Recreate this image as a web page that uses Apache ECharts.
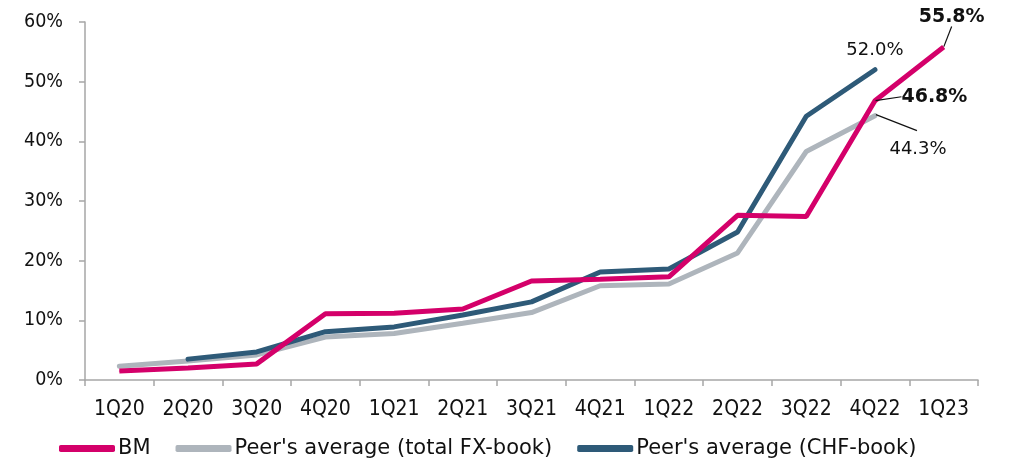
<!DOCTYPE html>
<html>
<head>
<meta charset="utf-8">
<script src="https://cdn.jsdelivr.net/npm/echarts@6/dist/echarts.min.js"></script>
<style>
  html, body { margin: 0; padding: 0; background: #ffffff; }
  #chart { width: 1010px; height: 463px; }
</style>
</head>
<body>
<div id="chart"></div>
<script>
// Quarters on the x axis
const quarters = ['1Q20', '2Q20', '3Q20', '4Q20', '1Q21', '2Q21', '3Q21', '4Q21', '1Q22', '2Q22', '3Q22', '4Q22', '1Q23'];

// Shares in percent per quarter (null = no value for that quarter)
const bm = [1.5, 2.0, 2.7, 11.1, 11.2, 11.9, 16.6, 16.9, 17.3, 27.6, 27.4, 46.8, 55.8];
const peerTotalFx = [2.3, 3.2, 4.2, 7.2, 7.8, 9.5, 11.3, 15.8, 16.1, 21.3, 38.3, 44.3, null];
const peerChf = [null, 3.5, 4.7, 8.1, 8.9, 10.9, 13.1, 18.1, 18.6, 24.8, 44.2, 52.0, null];

const seriesNames = ['BM', "Peer's average (total FX-book)", "Peer's average (CHF-book)"];
const seriesColors = ['#d4006a', '#aeb5bc', '#2e5a78'];

// Y axis ticks
const yMin = 0, yMax = 60, yStep = 10;

const axisFont = 'DejaVu Sans Condensed';
const textFont = 'DejaVu Sans';

function pct(v) { return v.toFixed(1) + '%'; }

const lastBm = bm.length - 1;
const lastPeer = 11;

// Only the latest points carry value labels
function withLabels(values, labels) {
  return values.map((v, i) => labels[i] ? { value: v, label: labels[i] } : v);
}

const boldLabel = { show: true, fontWeight: 'bold', fontSize: 19 };
const plainLabel = { show: true, fontSize: 18 };

const chart = echarts.init(document.getElementById('chart'), null, { renderer: 'canvas' });

const option = {
  animation: false,
  backgroundColor: '#ffffff',
  grid: { left: 85, right: 32, top: 22, bottom: 83, containLabel: false },
  legend: {
    top: 433,
    left: 54,
    itemGap: 25,
    itemWidth: 56,
    itemHeight: 7,
    icon: 'roundRect',
    textStyle: { fontFamily: textFont, fontSize: 21, color: '#111111', padding: [0, 0, 0, -2] },
    data: seriesNames
  },
  xAxis: {
    type: 'category',
    data: quarters,
    boundaryGap: true,
    axisLine: { lineStyle: { color: '#a6a6a6', width: 1.5 } },
    axisTick: { show: true, length: 6, lineStyle: { color: '#a6a6a6', width: 1.5 } },
    axisLabel: { fontFamily: axisFont, fontSize: 21, color: '#111111', margin: 19 },
    splitLine: { show: false }
  },
  yAxis: {
    type: 'value',
    min: yMin, max: yMax, interval: yStep,
    axisLine: { show: true, lineStyle: { color: '#a6a6a6', width: 1.5 } },
    axisTick: { show: true, length: 6, lineStyle: { color: '#a6a6a6', width: 1.5 } },
    axisLabel: { fontFamily: axisFont, fontSize: 19.5, color: '#111111', margin: 22, formatter: '{value}%' },
    splitLine: { show: false }
  },
  series: [
    {
      name: seriesNames[0],
      type: 'line',
      z: 3,
      data: withLabels(bm, {
        [lastPeer]: Object.assign({ position: 'right', distance: 4 }, boldLabel),
        [lastBm]: Object.assign({ position: 'top', distance: 4 }, boldLabel)
      }),
      symbol: 'circle',
      symbolSize: 1,
      showSymbol: true,
      lineStyle: { color: seriesColors[0], width: 5 },
      itemStyle: { color: seriesColors[0] },
      label: { show: false, fontFamily: textFont, color: '#111111', formatter: p => pct(p.value) },
      labelLine: { show: true, lineStyle: { color: '#111111', width: 1.2 } },
      labelLayout: function (p) {
        if (p.dataIndex === lastBm) return { dx: 8, dy: -16 };
        if (p.dataIndex === lastPeer) return { dx: 22, dy: -4 };
        return {};
      }
    },
    {
      name: seriesNames[1],
      type: 'line',
      z: 1,
      data: withLabels(peerTotalFx, {
        [lastPeer]: Object.assign({ position: 'right', distance: 4 }, plainLabel)
      }),
      symbol: 'circle',
      symbolSize: 1,
      showSymbol: true,
      lineStyle: { color: seriesColors[1], width: 5, cap: 'round' },
      itemStyle: { color: seriesColors[1] },
      label: { show: false, fontFamily: textFont, color: '#111111', formatter: p => pct(p.value) },
      labelLayout: function (p) {
        if (p.dataIndex === lastPeer) return { dx: 10, dy: 34 };
        return {};
      }
    },
    {
      name: seriesNames[2],
      type: 'line',
      z: 2,
      data: withLabels(peerChf, {
        [lastPeer]: Object.assign({ position: 'top', distance: 10 }, plainLabel)
      }),
      symbol: 'circle',
      symbolSize: 1,
      showSymbol: true,
      lineStyle: { color: seriesColors[2], width: 5, cap: 'round' },
      itemStyle: { color: seriesColors[2] },
      label: { show: false, fontFamily: textFont, color: '#111111', formatter: p => pct(p.value) }
    }
  ]
};

chart.setOption(option);

// Leader line from the last total-FX-book point down to its value label
const anchor = chart.convertToPixel({ seriesIndex: 1 }, [lastPeer, peerTotalFx[lastPeer]]);
chart.setOption({
  graphic: [{
    type: 'line',
    z: 10,
    shape: { x1: anchor[0] + 1, y1: anchor[1] - 1, x2: anchor[0] + 42, y2: anchor[1] + 15 },
    style: { stroke: '#111111', lineWidth: 1.2 }
  }]
});
</script>
</body>
</html>
